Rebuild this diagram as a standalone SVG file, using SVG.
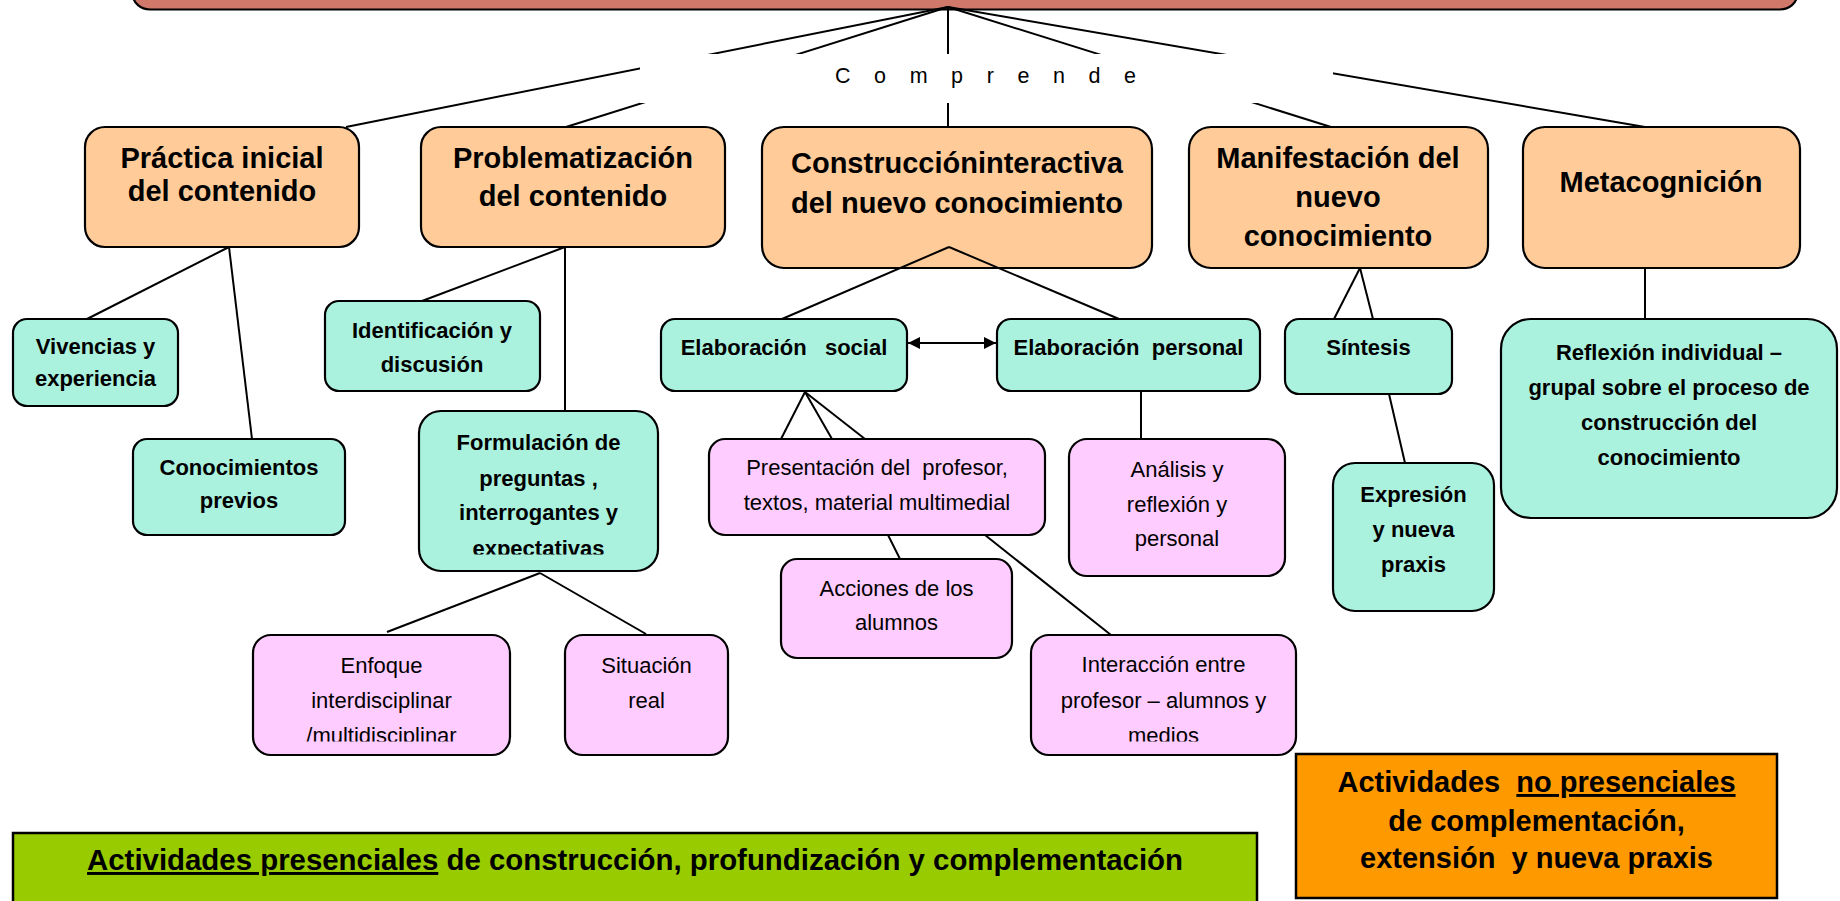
<svg xmlns="http://www.w3.org/2000/svg" width="1840" height="901" viewBox="0 0 1840 901">
<style>
text{font-family:"Liberation Sans",Arial,sans-serif;fill:#000}
.t1{font-size:29px;font-weight:bold;text-anchor:middle}
.t2{font-size:22px;font-weight:bold;text-anchor:middle}
.t3{font-size:22px;text-anchor:middle}
.box{stroke:#000;stroke-width:2.2}
.main{fill:#D0786A}
.l1{fill:#FFCC99}
.l2{fill:#AAF2DE}
.l3{fill:#FFCCFF}
.con line{stroke:#000;stroke-width:2;fill:none}
.u{text-decoration:underline}
</style>
<defs>
<marker id="ah" viewBox="0 0 12 12" refX="12" refY="6" markerWidth="12" markerHeight="12" markerUnits="userSpaceOnUse" orient="auto-start-reverse">
<path d="M0,0 L12,6 L0,12 Z" fill="#000"/>
</marker>
<clipPath id="cF"><rect x="419" y="411" width="239" height="143.5"/></clipPath>
<clipPath id="cE"><rect x="253" y="635" width="257" height="106.5"/></clipPath>
<clipPath id="cI"><rect x="1031" y="635" width="265" height="106.5"/></clipPath>
</defs>
<rect width="1840" height="901" fill="#fff"/>

<g id="top">
<rect class="box main" x="133" y="-20" width="1664" height="29.5" rx="17"/>
</g>

<g id="connectors" class="con">
<line x1="948" y1="7" x2="346" y2="127"/>
<line x1="948" y1="7" x2="566" y2="127"/>
<line x1="948" y1="7" x2="948" y2="127"/>
<line x1="948" y1="7" x2="1331" y2="127"/>
<line x1="948" y1="7" x2="1645" y2="127"/>
<line x1="229" y1="247" x2="87" y2="319"/>
<line x1="229" y1="247" x2="252" y2="439"/>
<line x1="565" y1="247" x2="422" y2="301"/>
<line x1="565" y1="247" x2="565" y2="411"/>
<line x1="1360" y1="268" x2="1334" y2="319"/>
<line x1="1360" y1="268" x2="1373" y2="319"/>
<line x1="1645" y1="268" x2="1645" y2="319"/>
<line x1="805" y1="392" x2="781" y2="439"/>
<line x1="805" y1="392" x2="832" y2="439"/>
<line x1="805" y1="392" x2="865" y2="439"/>
<line x1="888" y1="535" x2="900" y2="559"/>
<line x1="985" y1="535" x2="1111" y2="635"/>
<line x1="1141" y1="391" x2="1141" y2="439"/>
<line x1="1389" y1="394" x2="1405" y2="463"/>
<line x1="540" y1="573" x2="387" y2="632"/>
<line x1="540" y1="573" x2="646" y2="634"/>
</g>

<g id="label-comprende">
<rect x="640" y="54" width="693" height="49" fill="#fff"/>
<text x="835" y="83" font-size="21.5" letter-spacing="8.8">C o m p r e n d e</text>
</g>

<g id="n-practica">
<rect class="box l1" x="85" y="127" width="274" height="120" rx="20"/>
<text class="t1" x="222" y="168">Práctica inicial</text>
<text class="t1" x="222" y="201">del contenido</text>
</g>
<g id="n-problematizacion">
<rect class="box l1" x="421" y="127" width="304" height="120" rx="20"/>
<text class="t1" x="573" y="168">Problematización</text>
<text class="t1" x="573" y="206">del contenido</text>
</g>
<g id="n-construccion">
<rect class="box l1" x="762" y="127" width="390" height="141" rx="22"/>
<text class="t1" x="957" y="173">Construccióninteractiva</text>
<text class="t1" x="957" y="213">del nuevo conocimiento</text>
</g>
<g id="n-manifestacion">
<rect class="box l1" x="1189" y="127" width="299" height="141" rx="22"/>
<text class="t1" x="1338" y="168">Manifestación del</text>
<text class="t1" x="1338" y="207">nuevo</text>
<text class="t1" x="1338" y="246">conocimiento</text>
</g>
<g id="n-metacognicion">
<rect class="box l1" x="1523" y="127" width="277" height="141" rx="22"/>
<text class="t1" x="1661" y="192">Metacognición</text>
</g>

<g id="connectors-2" class="con">
<line x1="949" y1="247" x2="782" y2="319"/>
<line x1="949" y1="247" x2="1119" y2="319"/>
</g>

<g id="n-vivencias">
<rect class="box l2" x="13" y="319" width="165" height="87" rx="14"/>
<text class="t2" x="95.5" y="354">Vivencias y</text>
<text class="t2" x="95.5" y="386">experiencia</text>
</g>
<g id="n-conocimientos">
<rect class="box l2" x="133" y="439" width="212" height="96" rx="14"/>
<text class="t2" x="239" y="475">Conocimientos</text>
<text class="t2" x="239" y="508">previos</text>
</g>
<g id="n-identificacion">
<rect class="box l2" x="325" y="301" width="215" height="90" rx="14"/>
<text class="t2" x="432" y="338">Identificación y</text>
<text class="t2" x="432" y="372">discusión</text>
</g>
<g id="n-formulacion">
<rect class="box l2" x="419" y="411" width="239" height="160" rx="22"/>
<g clip-path="url(#cF)">
<text class="t2" x="538.5" y="450">Formulación de</text>
<text class="t2" x="538.5" y="486">preguntas ,</text>
<text class="t2" x="538.5" y="520">interrogantes y</text>
<text class="t2" x="538.5" y="556">expectativas</text>
</g>
</g>
<g id="n-elab-social">
<rect class="box l2" x="661" y="319" width="246" height="72" rx="14"/>
<text class="t2" x="784" y="355" xml:space="preserve">Elaboración   social</text>
</g>
<g id="n-elab-personal">
<rect class="box l2" x="997" y="319" width="263" height="72" rx="14"/>
<text class="t2" x="1128.5" y="355" xml:space="preserve">Elaboración  personal</text>
</g>
<g id="connector-arrow" class="con">
<line x1="908" y1="343" x2="996" y2="343" marker-start="url(#ah)" marker-end="url(#ah)"/>
</g>
<g id="n-sintesis">
<rect class="box l2" x="1285" y="319" width="167" height="75" rx="14"/>
<text class="t2" x="1368.5" y="355">Síntesis</text>
</g>
<g id="n-reflexion">
<rect class="box l2" x="1501" y="319" width="336" height="199" rx="30"/>
<text class="t2" x="1669" y="360">Reflexión individual –</text>
<text class="t2" x="1669" y="395">grupal sobre el proceso de</text>
<text class="t2" x="1669" y="430">construcción del</text>
<text class="t2" x="1669" y="465">conocimiento</text>
</g>
<g id="n-expresion">
<rect class="box l2" x="1333" y="463" width="161" height="148" rx="22"/>
<text class="t2" x="1413.5" y="502">Expresión</text>
<text class="t2" x="1413.5" y="537">y nueva</text>
<text class="t2" x="1413.5" y="572">praxis</text>
</g>

<g id="n-presentacion">
<rect class="box l3" x="709" y="439" width="336" height="96" rx="16"/>
<text class="t3" x="877" y="475" xml:space="preserve">Presentación del  profesor,</text>
<text class="t3" x="877" y="510">textos, material multimedial</text>
</g>
<g id="n-analisis">
<rect class="box l3" x="1069" y="439" width="216" height="137" rx="18"/>
<text class="t3" x="1177" y="477">Análisis y</text>
<text class="t3" x="1177" y="512">reflexión y</text>
<text class="t3" x="1177" y="546">personal</text>
</g>
<g id="n-acciones">
<rect class="box l3" x="781" y="559" width="231" height="99" rx="16"/>
<text class="t3" x="896.5" y="596">Acciones de los</text>
<text class="t3" x="896.5" y="630">alumnos</text>
</g>
<g id="n-enfoque">
<rect class="box l3" x="253" y="635" width="257" height="120" rx="18"/>
<g clip-path="url(#cE)">
<text class="t3" x="381.5" y="673">Enfoque</text>
<text class="t3" x="381.5" y="708">interdisciplinar</text>
<text class="t3" x="381.5" y="743">/multidisciplinar</text>
</g>
</g>
<g id="n-situacion">
<rect class="box l3" x="565" y="635" width="163" height="120" rx="18"/>
<text class="t3" x="646.5" y="673">Situación</text>
<text class="t3" x="646.5" y="708">real</text>
</g>
<g id="n-interaccion">
<rect class="box l3" x="1031" y="635" width="265" height="120" rx="18"/>
<g clip-path="url(#cI)">
<text class="t3" x="1163.5" y="672">Interacción entre</text>
<text class="t3" x="1163.5" y="708">profesor – alumnos y</text>
<text class="t3" x="1163.5" y="743">medios</text>
</g>
</g>

<g id="n-presenciales">
<rect x="13" y="833" width="1244" height="90" fill="#99CC00" stroke="#000" stroke-width="2.5"/>
<text class="t1" x="635" y="870" style="font-size:29.4px"><tspan class="u">Actividades presenciales</tspan> de construcción, profundización y complementación</text>
</g>
<g id="n-no-presenciales">
<rect x="1296" y="754" width="481" height="144" fill="#FF9900" stroke="#000" stroke-width="2.5"/>
<text class="t1" x="1536.5" y="792" xml:space="preserve">Actividades  <tspan class="u">no presenciales</tspan></text>
<text class="t1" x="1536.5" y="831">de complementación,</text>
<text class="t1" x="1536.5" y="868" xml:space="preserve">extensión  y nueva praxis</text>
</g>
</svg>
